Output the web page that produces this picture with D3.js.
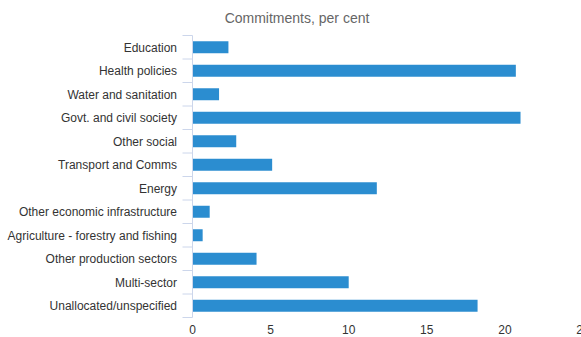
<!DOCTYPE html>
<html><head><meta charset="utf-8">
<script src="https://cdn.jsdelivr.net/npm/d3@7"></script>
<style>body{margin:0;background:#fff}svg{display:block;font-family:"Liberation Sans",Arial,sans-serif}</style>
</head><body>
<svg id="c" width="581" height="337"></svg>
<script>
const categories = ["Education","Health policies","Water and sanitation","Govt. and civil society","Other social","Transport and Comms","Energy","Other economic infrastructure","Agriculture - forestry and fishing","Other production sectors","Multi-sector","Unallocated/unspecified"];
const values = [2.3, 20.7, 1.7, 21.0, 2.8, 5.1, 11.8, 1.1, 0.65, 4.1, 10.0, 18.25];
const xTicks = [0,5,10,15,20,25];
const subtitle = "Commitments, per cent";

(function(){
const svg = d3.select("#c");
const pL = 192.5, pR = 583, pT = 35.5, pB = 317.5;
const x = d3.scaleLinear().domain([0,25]).range([pL,pR]);
const y = d3.scaleBand().domain(categories).range([pT,pB]).paddingInner(0.49).paddingOuter(0.245);

svg.append("text").attr("x",297).attr("y",22.5).attr("text-anchor","middle")
  .attr("font-size",14).attr("fill","#666").text(subtitle);

svg.selectAll("rect.bar").data(values).join("rect").attr("class","bar")
  .attr("x",x(0)).attr("y",(d,i)=>y(categories[i]))
  .attr("width",d=>x(d)-x(0)).attr("height",y.bandwidth())
  .attr("fill","#2b8dd0");

svg.append("line").attr("x1",pL).attr("x2",pL).attr("y1",pT).attr("y2",pB)
  .attr("stroke","#ccd6eb").attr("stroke-width",1);
const step = (pB-pT)/categories.length;
d3.range(categories.length+1).forEach(i=>{
  svg.append("line").attr("x1",pL-10).attr("x2",pL).attr("y1",pT+i*step).attr("y2",pT+i*step)
    .attr("stroke","#ccd6eb").attr("stroke-width",1);
});
svg.selectAll("text.cat").data(categories).join("text").attr("class","cat")
  .attr("x",177).attr("y",d=>y(d)+y.bandwidth()/2).attr("dy","0.36em")
  .attr("text-anchor","end").attr("font-size",12).attr("fill","#333").text(d=>d);

svg.selectAll("text.xt").data(xTicks).join("text").attr("class","xt")
  .attr("x",d=>x(d)).attr("y",334).attr("text-anchor","middle")
  .attr("font-size",12).attr("fill","#333").text(d=>d);
})();
</script>
</body></html>
